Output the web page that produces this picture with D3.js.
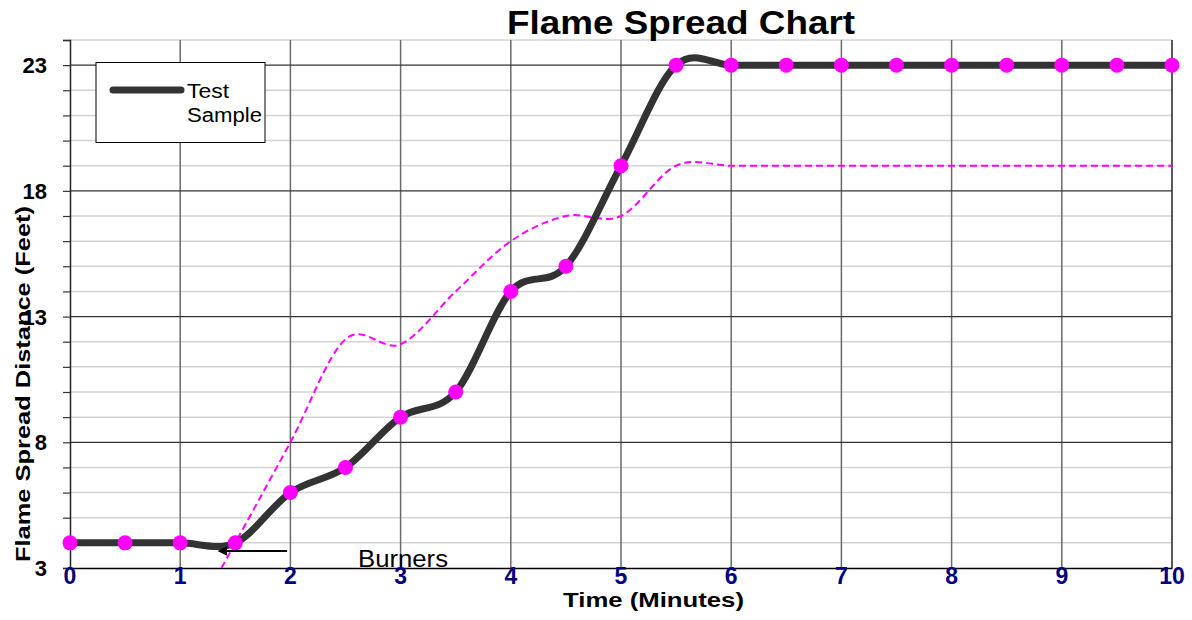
<!DOCTYPE html>
<html><head><meta charset="utf-8">
<script src="https://cdn.jsdelivr.net/npm/d3@7"></script>
<style>body{margin:0;background:#fff;} svg{display:block;font-family:"Liberation Sans",Arial,sans-serif;}</style>
</head><body>
<svg id="c" width="1192" height="620"></svg>
<script>
const sampleX = [0,0.5,1,1.5,2,2.5,3,3.5,4,4.5,5,5.5,6,6.5,7,7.5,8,8.5,9,9.5,10];
const sampleY = [4,4,4,4,6,7,9,10,14,15,19,23,23,23,23,23,23,23,23,23,23];
const refX = [1.375,1.5,2,2.5,3,3.5,4,4.5,5,5.5,6,6.5,7,7.5,8,8.5,9,9.5,10];
const refY = [3,4,8,12.1,11.9,14,16,17,17,19,19,19,19,19,19,19,19,19,19];
const xTicks = [0,1,2,3,4,5,6,7,8,9,10];
const yTicks = [3,8,13,18,23];
const yMinor = d3.range(3,25,1);

const svg = d3.select("#c");
const x = d3.scaleLinear().domain([0,10]).range([70,1172]);
const y = d3.scaleLinear().domain([3,24]).range([568,40]);

svg.append("defs").append("clipPath").attr("id","clip")
  .append("rect").attr("x",70).attr("y",40).attr("width",1102).attr("height",528);

// minor horizontal grid
svg.append("g").selectAll("line").data(yMinor.filter(d=>!yTicks.includes(d))).join("line")
  .attr("x1",x(0)).attr("x2",x(10)).attr("y1",d=>y(d)).attr("y2",d=>y(d))
  .attr("stroke","#d4d4d4").attr("stroke-width",1.5);
// vertical grid
svg.append("g").selectAll("line").data(xTicks.slice(1)).join("line")
  .attr("x1",d=>x(d)).attr("x2",d=>x(d)).attr("y1",y(24)).attr("y2",y(3))
  .attr("stroke",d=>d===10?"#222":"#6a6a6a").attr("stroke-width",1.5);
// major horizontal grid
svg.append("g").selectAll("line").data(yTicks.slice(1)).join("line")
  .attr("x1",x(0)).attr("x2",x(10)).attr("y1",d=>y(d)).attr("y2",d=>y(d))
  .attr("stroke","#333").attr("stroke-width",1.2);

// left axis with ticks
const yAxis = d3.axisLeft(y).tickValues(yMinor).tickSize(7).tickFormat("");
const ga = svg.append("g").attr("transform","translate(70,0)").call(yAxis);
ga.select(".domain").attr("stroke","#222").attr("stroke-width",1.5);
ga.selectAll(".tick line").attr("stroke","#333").attr("stroke-width",1.2);
// bottom axis line
const xAxis = d3.axisBottom(x).tickValues(xTicks).tickSize(0).tickFormat("");
const gx = svg.append("g").attr("transform","translate(0,568)").call(xAxis);
gx.select(".domain").attr("stroke","#000").attr("stroke-width",1.5);

// y labels
svg.append("g").selectAll("text").data(yTicks).join("text")
  .attr("x",47).attr("y",d=>y(d)+8).attr("text-anchor","end")
  .attr("font-size",22).attr("font-weight","bold").attr("fill","#000").text(d=>d);
// x labels
svg.append("g").selectAll("text").data(xTicks).join("text")
  .attr("x",d=>x(d)).attr("y",584).attr("text-anchor","middle")
  .attr("font-size",23).attr("font-weight","bold").attr("fill","#000080").text(d=>d);

// titles
svg.append("text").attr("x",507).attr("y",34)
  .attr("font-size",33).attr("font-weight","bold")
  .attr("textLength",348).attr("lengthAdjust","spacingAndGlyphs").text("Flame Spread Chart");
svg.append("text").attr("x",563).attr("y",607)
  .attr("font-size",20).attr("font-weight","bold")
  .attr("textLength",181).attr("lengthAdjust","spacingAndGlyphs").text("Time (Minutes)");
svg.append("text").attr("transform","translate(30,562) rotate(-90)")
  .attr("font-size",21).attr("font-weight","bold")
  .attr("textLength",356).attr("lengthAdjust","spacingAndGlyphs").text("Flame Spread Distance (Feet)");

// reference dashed line
const line = d3.line().x(d=>x(d[0])).y(d=>y(d[1])).curve(d3.curveCardinal.tension(0));
svg.append("path").attr("clip-path","url(#clip)")
  .attr("d",line(refX.map((v,i)=>[v,refY[i]])))
  .attr("fill","none").attr("stroke","#ff00ff").attr("stroke-width",2).attr("stroke-dasharray","7,4");

// sample line
svg.append("path").attr("d",line(sampleX.map((v,i)=>[v,sampleY[i]])))
  .attr("fill","none").attr("stroke","#333").attr("stroke-width",7).attr("stroke-linejoin","round");
svg.append("g").selectAll("circle").data(sampleX.map((v,i)=>[v,sampleY[i]])).join("circle")
  .attr("cx",d=>x(d[0])).attr("cy",d=>y(d[1])).attr("r",7.5).attr("fill","#ff00ff");

// Burners annotation
svg.append("defs").append("marker").attr("id","arr").attr("viewBox","0 0 10 10")
  .attr("refX",1).attr("refY",5).attr("markerWidth",5).attr("markerHeight",5).attr("orient","auto-start-reverse")
  .append("path").attr("d","M0,0 L10,5 L0,10 z").attr("fill","#000");
svg.append("line").attr("x1",x(1.97)).attr("x2",x(1.42)).attr("y1",551).attr("y2",551)
  .attr("stroke","#000").attr("stroke-width",2).attr("marker-end","url(#arr)");
svg.append("text").attr("x",358).attr("y",567).attr("font-size",24)
  .attr("textLength",90).attr("lengthAdjust","spacingAndGlyphs").text("Burners");

// legend
const lg = svg.append("g");
lg.append("rect").attr("x",96).attr("y",62.5).attr("width",169).attr("height",80)
  .attr("fill","#fff").attr("stroke","#000").attr("stroke-width",1);
lg.append("line").attr("x1",113).attr("x2",181).attr("y1",90).attr("y2",90)
  .attr("stroke","#333").attr("stroke-width",7).attr("stroke-linecap","round");
lg.append("text").attr("x",187).attr("y",98).attr("font-size",20)
  .attr("textLength",42).attr("lengthAdjust","spacingAndGlyphs").text("Test");
lg.append("text").attr("x",187).attr("y",122).attr("font-size",20)
  .attr("textLength",75).attr("lengthAdjust","spacingAndGlyphs").text("Sample");
</script>
</body></html>
